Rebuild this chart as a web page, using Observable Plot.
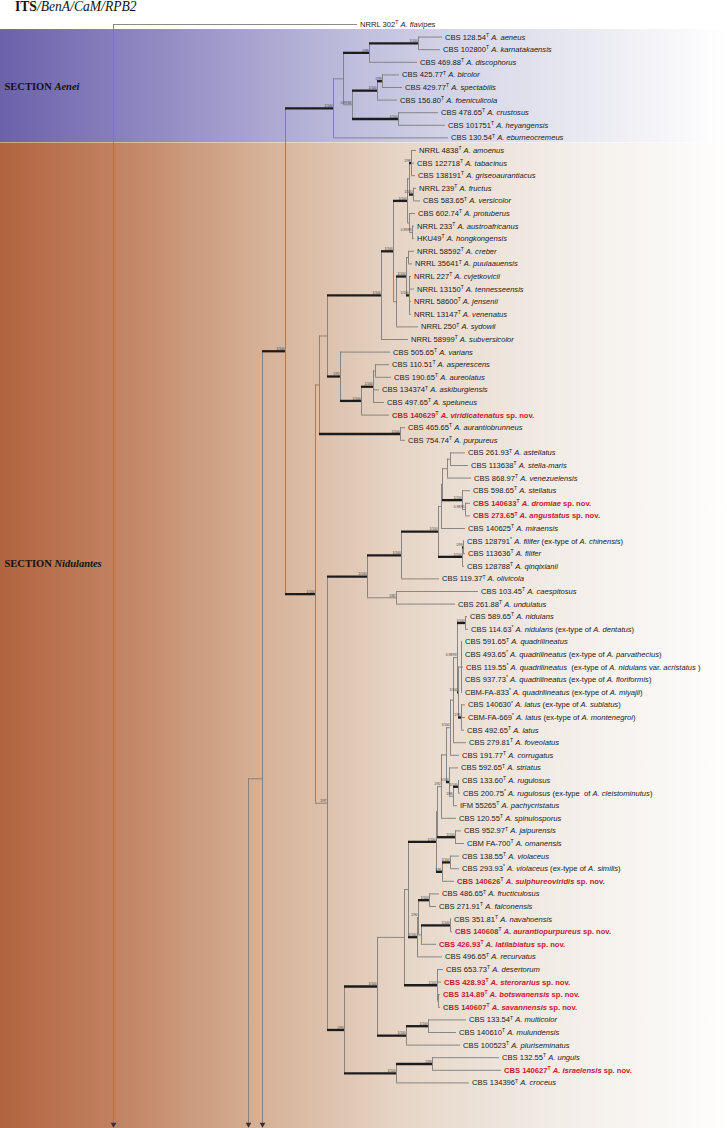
<!DOCTYPE html>
<html><head><meta charset="utf-8">
<script src="https://cdn.jsdelivr.net/npm/d3@7"></script>
<script src="https://cdn.jsdelivr.net/npm/@observablehq/plot@0.6"></script>
<style>
body{margin:0;background:#fff;}
#title{height:14px;padding-left:15px;font-family:"Liberation Serif","Times New Roman",serif;font-size:13.6px;line-height:14px;color:#111;white-space:nowrap;}
#chart svg{display:block;}
</style></head><body>
<div id="title"><b>ITS</b><i>/BenA/CaM/RPB2</i></div>
<div id="chart"></div>
<script>
// Internal nodes: [id, parent, depth (x10^-3 subst./site from root), support PP/BS, strongly supported]
const nodes = [
 ["root", null, 0, "", 0],
 ["n248", "root", 135, "", 0],
 ["n262", "n248", 149, "", 0],
 ["n285", "n262", 172, "1/100", 1],
 ["aenei", "n285", 220, "1/100", 1],
 ["ae1", "aenei", 230, "", 0],
 ["ae2", "ae1", 256, "1/99", 1],
 ["ae3", "ae2", 305, "1/100", 1],
 ["ae4", "ae1", 239, "0.99/84", 0],
 ["ae5", "ae4", 264, "1/100", 1],
 ["ae6", "ae5", 269, "1/99", 1],
 ["ae7", "ae4", 285, "1/100", 1],
 ["nid", "n285", 202, "1/100", 1],
 ["n319", "nid", 206, "", 0],
 ["n327", "n319", 214, "", 0],
 ["n381", "n327", 268, "1/100", 1],
 ["n393", "n381", 280, "1/100", 1],
 ["nV", "n393", 294, "1/100", 1],
 ["nV2", "nV", 296, "", 0],
 ["nAm", "nV2", 298, "1/98", 1],
 ["nF", "nV2", 300, "1/100", 1],
 ["nP", "nV", 296, "", 0],
 ["nAH", "nP", 299, "0.99/99", 0],
 ["nS", "n393", 283, "", 0],
 ["nS2", "nS", 293, "1/100", 1],
 ["nCP", "nS2", 295, "", 0],
 ["nCJ", "nS2", 296, "1/100", 1],
 ["n340", "n327", 227, "1/92", 1],
 ["n361", "n340", 248, "1/100", 1],
 ["n373", "n361", 260, "1/100", 1],
 ["n375", "n373", 262, "", 0],
 ["n400", "n319", 287, "1/100", 1],
 ["n327b", "nid", 214, "1/97", 0],
 ["n367", "n327b", 254, "1/100", 1],
 ["n401", "n367", 288, "1/100", 1],
 ["n438", "n401", 325, "1/100", 1],
 ["nB", "n438", 328, "", 0],
 ["nA", "nB", 329, "", 0],
 ["n447", "nA", 334, "", 0],
 ["n450", "n447", 337, "", 0],
 ["n462", "nA", 349, "1/100", 1],
 ["n465", "n462", 352, "0.98/95", 0],
 ["n462f", "n438", 349, "1/100", 1],
 ["n463", "n462f", 350, "1/99", 1],
 ["n396", "n367", 283, "1/82", 0],
 ["n344", "n327b", 231, "1/90", 1],
 ["n377", "n344", 264, "1/100", 1],
 ["n404", "n377", 291, "", 0],
 ["n408", "n404", 295, "", 0],
 ["n436", "n408", 323, "1/100", 1],
 ["X", "n436", 324, "", 0],
 ["Y", "X", 328, "1/92", 0],
 ["Z", "Y", 333, "", 0],
 ["CO", "Z", 337, "1/100", 0],
 ["FV", "CO", 340, "", 0],
 ["NQL", "FV", 344, "0.98/93", 0],
 ["nidN", "NQL", 352, "1/100", 1],
 ["QL", "NQL", 345, "1/100", 1],
 ["Q", "QL", 348, "", 0],
 ["L", "QL", 348, "1/95", 1],
 ["SR", "Z", 336, "1/100", 1],
 ["R", "SR", 340, "1/96", 0],
 ["RG", "R", 345, "1/100", 1],
 ["J", "X", 342, "1/100", 1],
 ["VS", "n436", 329, "1/95", 1],
 ["V", "VS", 337, "1/100", 1],
 ["n417", "n408", 304, "1/100", 1],
 ["n418", "n417", 305, "1/90", 0],
 ["n429", "n418", 316, "1/100", 1],
 ["n422", "n418", 308, "", 0],
 ["n450b", "n422", 337, "1/100", 1],
 ["n437", "n404", 324, "1/100", 1],
 ["n439", "n437", 325, "", 0],
 ["n406", "n377", 293, "1/100", 1],
 ["n428", "n406", 315, "1/100", 1],
 ["n396b", "n344", 283, "1/100", 1],
 ["n432", "n396b", 319, "1/99", 1]
];

// Leaves in drawing order: [parent, tip depth, strain, type mark, species, note, new species]
const leaves = [
 ["root", 244, "NRRL 302", "T", "A. flavipes", "", 0],
 ["ae3", 329, "CBS 128.54", "T", "A. aeneus", "", 0],
 ["ae3", 327, "CBS 102800", "T", "A. karnatakaensis", "", 0],
 ["ae2", 304, "CBS 469.88", "T", "A. discophorus", "", 0],
 ["ae6", 286, "CBS 425.77", "T", "A. bicolor", "", 0],
 ["ae6", 289, "CBS 429.77", "T", "A. spectabilis", "", 0],
 ["ae5", 284, "CBS 156.80", "T", "A. foeniculicola", "", 0],
 ["ae7", 325, "CBS 478.65", "T", "A. crustosus", "", 0],
 ["ae7", 332, "CBS 101751", "T", "A. heyangensis", "", 0],
 ["aenei", 335, "CBS 130.54", "T", "A. eburneocremeus", "", 0],
 ["nAm", 303, "NRRL 4838", "T", "A. amoenus", "", 0],
 ["nAm", 301, "CBS 122718", "T", "A. tabacinus", "", 0],
 ["nAm", 302, "CBS 138191", "T", "A. griseoaurantiacus", "", 0],
 ["nF", 303, "NRRL 239", "T", "A. fructus", "", 0],
 ["nF", 307, "CBS 583.65", "T", "A. versicolor", "", 0],
 ["nP", 302, "CBS 602.74", "T", "A. protuberus", "", 0],
 ["nAH", 301, "NRRL 233", "T", "A. austroafricanus", "", 0],
 ["nAH", 301, "HKU49", "T", "A. hongkongensis", "", 0],
 ["nCP", 301, "NRRL 58592", "T", "A. creber", "", 0],
 ["nCP", 299, "NRRL 35641", "T", "A. puulaauensis", "", 0],
 ["nCJ", 298, "NRRL 227", "T", "A. cvjetkovicii", "", 0],
 ["nCJ", 301, "NRRL 13150", "T", "A. tennesseensis", "", 0],
 ["nCJ", 298, "NRRL 58600", "T", "A. jensenii", "", 0],
 ["nCJ", 298, "NRRL 13147", "T", "A. venenatus", "", 0],
 ["nS", 305, "NRRL 250", "T", "A. sydowii", "", 0],
 ["n381", 295, "NRRL 58999", "T", "A. subversicolor", "", 0],
 ["n340", 277, "CBS 505.65", "T", "A. varians", "", 0],
 ["n375", 276, "CBS 110.51", "T", "A. asperescens", "", 0],
 ["n375", 278, "CBS 190.65", "T", "A. aureolatus", "", 0],
 ["n373", 266, "CBS 134374", "T", "A. askiburgiensis", "", 0],
 ["n373", 271, "CBS 497.65", "T", "A. speluneus", "", 0],
 ["n361", 276, "CBS 140629", "T", "A. viridicatenatus", "", 1],
 ["n400", 292, "CBS 465.65", "T", "A. aurantiobrunneus", "", 0],
 ["n400", 292, "CBS 754.74", "T", "A. purpureus", "", 0],
 ["n450", 352, "CBS 261.93", "T", "A. astellatus", "", 0],
 ["n450", 355, "CBS 113638", "T", "A. stella-maris", "", 0],
 ["n447", 358, "CBS 868.97", "T", "A. venezuelensis", "", 0],
 ["n462", 357, "CBS 598.65", "T", "A. stellatus", "", 0],
 ["n465", 357, "CBS 140633", "T", "A. dromiae", "", 1],
 ["n465", 357, "CBS 273.65", "T", "A. angustatus", "", 1],
 ["nB", 352, "CBS 140625", "T", "A. miraensis", "", 0],
 ["n463", 351, "CBS 128791", "*", "A. filifer", "(ex-type of _A. chinensis_)", 0],
 ["n463", 352, "CBS 113636", "T", "A. filifer", "", 0],
 ["n462f", 351, "CBS 128788", "T", "A. qinqixianii", "", 0],
 ["n401", 326, "CBS 119.37", "T", "A. olivicola", "", 0],
 ["n396", 365, "CBS 103.45", "T", "A. caespitosus", "", 0],
 ["n396", 342, "CBS 261.88", "T", "A. undulatus", "", 0],
 ["nidN", 354, "CBS 589.65", "T", "A. nidulans", "", 0],
 ["nidN", 355, "CBS 114.63", "*", "A. nidulans", "(ex-type of _A. dentatus_)", 0],
 ["Q", 349, "CBS 591.65", "T", "A. quadrilineatus", "", 0],
 ["Q", 349, "CBS 493.65", "*", "A. quadrilineatus", "(ex-type of _A. parvathecius_)", 0],
 ["Q", 350, "CBS 119.55", "*", "A. quadrilineatus", "\u00a0(ex-type of _A. nidulans_ var. _acristatus_ )", 0],
 ["Q", 349, "CBS 937.73", "*", "A. quadrilineatus", "(ex-type of _A. floriformis_)", 0],
 ["Q", 349, "CBM-FA-833", "*", "A. quadrilineatus", "(ex-type of _A. miyajii_)", 0],
 ["L", 352, "CBS 140630", "*", "A. latus", "(ex-type of _A. sublatus_)", 0],
 ["L", 352, "CBM-FA-669", "*", "A. latus", "(ex-type of _A. montenegroi_)", 0],
 ["L", 351, "CBS 492.65", "T", "A. latus", "", 0],
 ["FV", 353, "CBS 279.81", "T", "A. foveolatus", "", 0],
 ["CO", 346, "CBS 191.77", "T", "A. corrugatus", "", 0],
 ["SR", 345, "CBS 592.65", "T", "A. striatus", "", 0],
 ["RG", 346, "CBS 133.60", "T", "A. rugulosus", "", 0],
 ["RG", 347, "CBS 200.75", "*", "A. rugulosus", "(ex-type \u00a0of _A. cleistominutus_)", 0],
 ["R", 344, "IFM 55265", "T", "A. pachycristatus", "", 0],
 ["Y", 343, "CBS 120.55", "T", "A. spinulosporus", "", 0],
 ["J", 348, "CBS 952.97", "T", "A. jaipurensis", "", 0],
 ["J", 351, "CBM FA-700", "T", "A. omanensis", "", 0],
 ["V", 346, "CBS 138.55", "T", "A. violaceus", "", 0],
 ["V", 346, "CBS 293.93", "*", "A. violaceus", "(ex-type of _A. similis_)", 0],
 ["VS", 341, "CBS 140626", "T", "A. sulphureoviridis", "", 1],
 ["n429", 326, "CBS 486.65", "T", "A. fructiculosus", "", 0],
 ["n429", 323, "CBS 271.91", "T", "A. falconensis", "", 0],
 ["n450b", 338, "CBS 351.81", "T", "A. navahoensis", "", 0],
 ["n450b", 339, "CBS 140608", "T", "A. aurantiopurpureus", "", 1],
 ["n422", 323, "CBS 426.93", "T", "A. latilabiatus", "", 1],
 ["n417", 329, "CBS 496.65", "T", "A. recurvatus", "", 0],
 ["n437", 330, "CBS 653.73", "T", "A. desertorum", "", 0],
 ["n437", 328, "CBS 428.93", "T", "A. sterorarius", "", 1],
 ["n439", 327, "CBS 314.89", "T", "A. botswanensis", "", 1],
 ["n439", 327, "CBS 140607", "T", "A. savannensis", "", 1],
 ["n428", 353, "CBS 133.54", "T", "A. multicolor", "", 0],
 ["n428", 343, "CBS 140610", "T", "A. mulundensis", "", 0],
 ["n406", 347, "CBS 100523", "T", "A. pluriseminatus", "", 0],
 ["n432", 386, "CBS 132.55", "T", "A. unguis", "", 0],
 ["n432", 388, "CBS 140627", "T", "A. israelensis", "", 1],
 ["n396b", 356, "CBS 134396", "T", "A. croceus", "", 0]
];

// Subtrees continued on the next part of the figure: [node, row of hidden subtree]
const continuations = [["root", 130], ["n248", 120], ["n262", 93.8]];
const arrowRow = 87.3; // where the figure is cut
const sections = [
 {name: "Aenei", first: 1, last: 9, labelRow: 4.92, openEnd: false},
 {name: "Nidulantes", first: 10, last: 84, labelRow: 42.8, openEnd: true}
];
const xDomain = [-113, 614];

// ---- layout ----
const byId = new Map(nodes.map(([id, parent, depth, support, strong]) => [id, {id, parent, depth, support, strong: !!strong, kids: []}]));
for (const n of byId.values()) if (n.parent) byId.get(n.parent).kids.push(n);
const leafData = leaves.map(([parent, depth, strain, mark, species, note, novel], i) => ({parent, depth, strain, mark, species, note, novel: !!novel, row: i}));
leafData.forEach(l => byId.get(l.parent).kids.push(l));
continuations.forEach(([id, row]) => byId.get(id).kids.push({row, hidden: true}));
function rowOf(n) {
  if (n.row !== undefined) return n.row;
  const rs = n.kids.map(rowOf);
  n.lo = Math.min(...rs); n.hi = Math.max(...rs);
  n.row = (n.lo + n.hi) / 2;
  return n.row;
}
rowOf(byId.get("root"));
const inner = [...byId.values()];
const hBranches = [];
for (const n of inner) if (n.parent) hBranches.push({y: n.row, x1: byId.get(n.parent).depth, x2: n.depth, strong: n.strong});
for (const l of leafData) hBranches.push({y: l.row, x1: byId.get(l.parent).depth, x2: l.depth, strong: false});
const vBranches = inner.map(n => ({x: n.depth, y1: n.lo, y2: Math.min(n.hi, arrowRow), cut: n.hi > arrowRow}));
const supports = inner.filter(n => n.support);
const plain = l => `${l.strain}${l.mark} ${l.species} ${l.note.replace(/_/g, "")}${l.novel ? " sp. nov." : ""}`;

const gray = "#7d7d7d";
const labelSize = 7.6;
const tag = name => () => name; // aria-label channel used to find elements afterwards
const chart = Plot.plot({
  width: 727, height: 1114, margin: 0,
  x: {domain: xDomain, range: [0, 727], axis: null},
  y: {domain: [0, 84], range: [10, 1068.4], axis: null},
  style: {background: "white", fontFamily: "'Liberation Sans', Arial, sans-serif"},
  marks: [
    ...sections.map(s => Plot.rect([s], {x1: () => xDomain[0], x2: () => xDomain[1], y1: d => d.first - 0.6, y2: d => d.openEnd ? 95 : d.last + 0.37, fill: "#ddd", ariaLabel: tag("band " + s.name)})),
    Plot.text(sections, {frameAnchor: "left", y: "labelRow", dx: 4, text: d => "SECTION " + d.name, textAnchor: "start", fontFamily: "'Liberation Serif', 'Times New Roman', serif", fontWeight: "bold", fontSize: 10.5, fill: "#111", ariaLabel: tag("section label")}),
    Plot.ruleX(vBranches, {x: "x", y1: "y1", y2: "y2", stroke: gray, strokeWidth: 0.9}),
    Plot.ruleY(hBranches.filter(d => !d.strong), {y: "y", x1: "x1", x2: "x2", stroke: gray, strokeWidth: 0.9}),
    Plot.ruleY(hBranches.filter(d => d.strong), {y: "y", x1: "x1", x2: "x2", stroke: "#1c1c1c", strokeWidth: 2.3}),
    Plot.dot(vBranches.filter(d => d.cut), {x: "x", y: () => arrowRow, symbol: "triangle", rotate: 180, r: 2.1, fill: "#333", stroke: "none"}),
    Plot.text(supports, {x: "depth", y: "row", text: "support", dx: -1, dy: -2.3, textAnchor: "end", fontSize: 3.2, fill: "#333"}),
    Plot.text(leafData.filter(l => !l.novel), {x: "depth", y: "row", text: plain, dx: 2.5, textAnchor: "start", fontSize: labelSize, fill: "#1a1a1a", ariaLabel: tag("leaf label")}),
    Plot.text(leafData.filter(l => l.novel), {x: "depth", y: "row", text: plain, dx: 2.5, textAnchor: "start", fontSize: labelSize, fontWeight: "bold", fill: "#c41a30", ariaLabel: tag("new species label")})
  ]
});
document.getElementById("chart").append(chart);

// ---- rich text & gradients ----
const svg = d3.select(chart);
const pick = (el, label) => svg.selectAll(`${el}[aria-label="${label}"]`);
function richLabel(node, d) {
  if (!d) return;
  const t = d3.select(node); t.text(null);
  t.append("tspan").text(d.strain);
  t.append("tspan").attr("dy", -2.7).attr("font-size", 5).text(d.mark);
  t.append("tspan").attr("dy", 2.7).text("\u00a0");
  t.append("tspan").attr("font-style", "italic").text(d.species);
  if (d.note) {
    t.append("tspan").text("\u00a0");
    d.note.split("_").forEach((seg, k) => { if (seg) t.append("tspan").attr("font-style", k % 2 ? "italic" : "normal").text(seg); });
  }
  if (d.novel) t.append("tspan").text("\u00a0sp. nov.");
}
const normals = leafData.filter(l => !l.novel), novels = leafData.filter(l => l.novel);
pick("text", "leaf label").each(function(_, k) { richLabel(this, normals[k]); });
pick("text", "new species label").each(function(_, k) { richLabel(this, novels[k]); });
pick("text", "section label").each(function(_, k) {
  const s = sections[k]; if (!s) return;
  const t = d3.select(this); t.text(null);
  t.append("tspan").text("SECTION\u00a0");
  t.append("tspan").attr("font-style", "italic").text(s.name);
});
const stops = {
  Aenei: [[0, "#6b61ab"], [0.22, "#928bc3"], [0.45, "#b9b7d9"], [0.65, "#d8d8e9"], [0.85, "#eeeef4"], [1, "#ffffff"]],
  Nidulantes: [[0, "#b2633f"], [0.15, "#c0805f"], [0.35, "#d5af94"], [0.55, "#e6d5c6"], [0.75, "#f1ebe5"], [1, "#fefefd"]]
};
const defs = svg.insert("defs", ":first-child");
for (const s of sections) {
  const g = defs.append("linearGradient").attr("id", "band-" + s.name).attr("x1", 0).attr("x2", 1).attr("y1", 0).attr("y2", 0);
  for (const [o, c] of stops[s.name]) g.append("stop").attr("offset", o).attr("stop-color", c);
  pick("rect", "band " + s.name).attr("fill", `url(#band-${s.name})`);
}
</script>
</body></html>
